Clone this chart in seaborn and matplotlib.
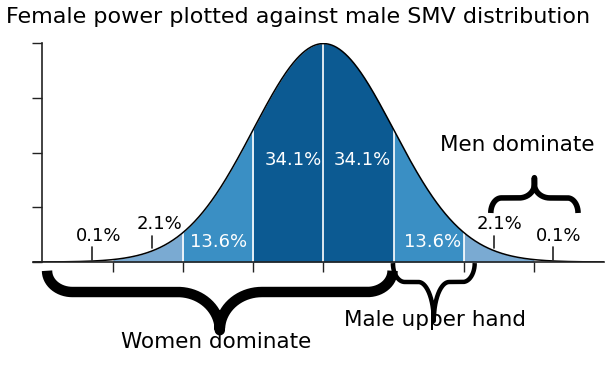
import numpy as np
import pandas as pd
import matplotlib

matplotlib.use("Agg")
import matplotlib.pyplot as plt  # noqa: E402
import seaborn as sns  # noqa: E402

# bandas em desvios padrao e as cores de cada uma
limites_bandas = [-3, -2, -1, 0, 1, 2, 3]
cores_bandas = ["#7aaad2", "#3a8fc4", "#0c5a92", "#0c5a92", "#3a8fc4", "#7aaad2"]
linhas_brancas = [-2, -1, 0, 1, 2]

# rotulos de porcentagem
rotulos_internos = ["13.6%", "34.1%", "34.1%", "13.6%"]
rotulos_externos = ["0.1%", "2.1%", "2.1%", "0.1%"]

TITULO = "Female power plotted against male SMV distribution"


def densidade_normal(x):
    return np.exp(-0.5 * x ** 2) / np.sqrt(2 * np.pi)


def chave(ax, x0, x1, y_ext, y_barra, y_ponta, r_ext, r_ponta, haste, lw):
    """Desenha uma chave horizontal entre x0 e x1 feita de arcos de elipse."""
    xm = (x0 + x1) / 2
    th = np.linspace(0, np.pi / 2, 60)
    y_curva = y_ponta - haste
    # ponta da extremidade
    xa = x0 + r_ext - r_ext * np.cos(th)
    ya = y_ext + (y_barra - y_ext) * np.sin(th)
    # curva que desce para a ponta central
    xb = xm - r_ponta + r_ponta * np.sin(th)
    yb = y_curva + (y_barra - y_curva) * np.cos(th)
    xs = np.concatenate([xa, xb, [xm]])
    ys = np.concatenate([ya, yb, [y_ponta]])
    xs = np.concatenate([xs, (2 * xm - xs)[::-1]])
    ys = np.concatenate([ys, ys[::-1]])
    ax.plot(xs, ys, color="black", lw=lw, solid_capstyle="butt",
            solid_joinstyle="round", clip_on=False)


sns.set_theme(style="white")
plt.rcParams["font.family"] = ["DejaVu Sans"]
plt.rcParams["text.color"] = "black"

fig = plt.figure(figsize=(6.09, 3.88), dpi=100)
ax = fig.add_axes([33 / 609, (388 - 262) / 388, (604 - 33) / 609, 219 / 388])

x = np.linspace(-4.14, 4.0, 800)
curva = pd.DataFrame({"x": x, "y": densidade_normal(x)})

for a, b, cor in zip(limites_bandas[:-1], limites_bandas[1:], cores_bandas):
    m = (curva["x"] >= a) & (curva["x"] <= b)
    xx = np.concatenate([[a], curva["x"][m], [b]])
    ax.fill_between(xx, 0, densidade_normal(xx), color=cor, lw=0)

for v in linhas_brancas:
    ax.plot([v, v], [0, densidade_normal(v)], color="white", lw=1.2)

sns.lineplot(data=curva, x="x", y="y", color="black", lw=1.1, ax=ax)

ax.set_xlim(-4.14, 4.0)
ax.set_ylim(0, 0.4)
ax.set_xticks(limites_bandas)
ax.set_yticks([0, 0.1, 0.2, 0.3, 0.4])
ax.set_xticklabels([])
ax.set_yticklabels([])
ax.set_xlabel("")
ax.set_ylabel("")
ax.tick_params(axis="both", direction="out", length=7, width=1, color="#222222", bottom=True, left=True)
for lado in ["top", "right"]:
    ax.spines[lado].set_visible(False)
ax.spines["left"].set_position(("data", -4.01))
ax.spines["left"].set_bounds(0, 0.4)
for lado in ["left", "bottom"]:
    ax.spines[lado].set_color("#222222")
    ax.spines[lado].set_linewidth(1.2)

# porcentagens dentro das bandas
for txt, xp in zip(rotulos_internos, [-1.49, -0.43, 0.56, 1.56]):
    yp = 0.0365 if "13" in txt else 0.186
    ax.text(xp, yp, txt, color="white", fontsize=13, ha="center", va="center")

# porcentagens das caudas com marcadores
for txt, xp, yp, xm, ym in zip(rotulos_externos,
                               [-3.2, -2.34, 2.51, 3.36],
                               [0.0484, 0.069, 0.0685, 0.0484],
                               [-3.3, -2.44, 2.43, 3.27],
                               [(0.004, 0.027), (0.026, 0.048), (0.026, 0.048), (0.004, 0.027)]):
    ax.text(xp, yp, txt, color="black", fontsize=13, ha="center", va="center")
    ax.plot([xm, xm], ym, color="#222222", lw=1.2)

# chaves
chave(ax, -3.94, 0.986, -0.016, -0.0548, -0.1096, 0.36, 0.6, 0.015, 7.5)
chave(ax, 0.99, 2.157, -0.002, -0.0365, -0.0877, 0.17, 0.22, 0.02, 3.2)
chave(ax, 2.386, 3.63, 0.0895, 0.117, 0.154, 0.15, 0.22, 0.012, 4)

ax.text(-1.53, -0.146, "Women dominate", fontsize=15.5, ha="center", va="center", clip_on=False)
ax.text(1.59, -0.106, "Male upper hand", fontsize=15.5, ha="center", va="center", clip_on=False)
ax.text(2.76, 0.2137, "Men dominate", fontsize=15.5, ha="center", va="center")

fig.text(298 / 609, 1 - 17 / 388, TITULO, fontsize=16, ha="center", va="center")

fig.savefig("out.png", dpi=100)
